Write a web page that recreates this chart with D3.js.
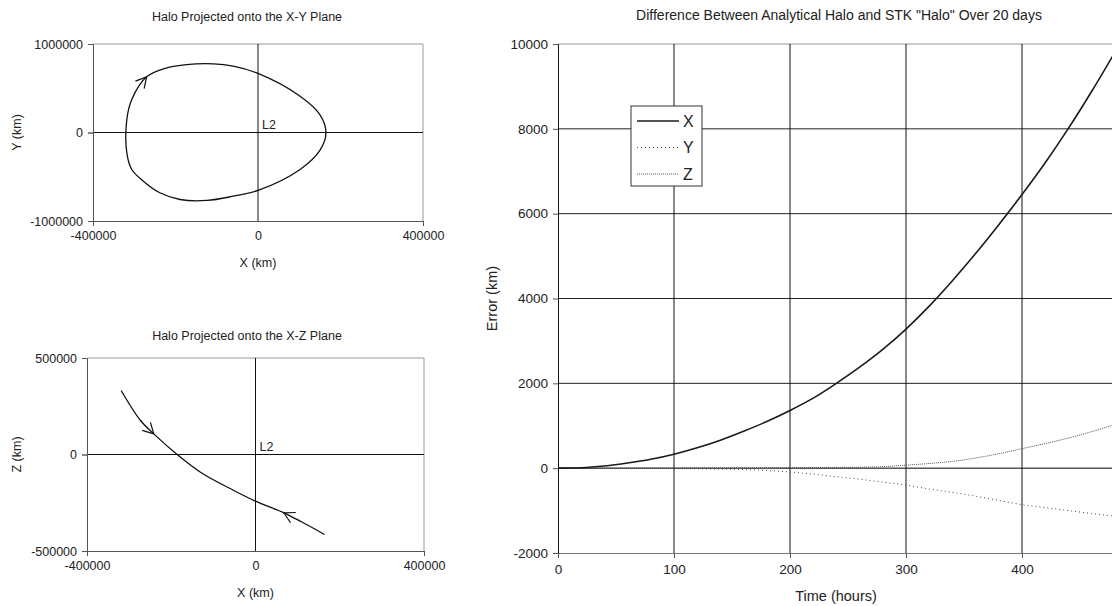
<!DOCTYPE html>
<html>
<head>
<meta charset="utf-8">
<script src="https://cdn.jsdelivr.net/npm/d3@7"></script>
<style>
body { margin: 0; background: #fff; }
svg { display: block; font-family: "Liberation Sans", Arial, sans-serif; }
text { fill: #222; }
</style>
</head>
<body>
<div id="chart"></div>
<script>
// halo orbit projected on X-Y (km), clockwise from the right-most point
var xyOrbitX = [164800, 150000, 102000, 0, -60000, -124000, -189000, -238000, -278000, -306000, -318000, -318000, -306000, -270000, -221000, -173000, -108000, -60000, 0, 102000, 150000];
var xyOrbitY = [0, -203000, -418000, -655000, -720000, -768000, -757000, -681000, -550000, -418000, -230000, 147000, 373000, 629000, 731000, 768000, 776000, 749000, 667000, 410000, 203000];
// halo orbit projected on X-Z (km)
var xzOrbitX = [-319000, -273000, -241500, -186000, -130600, -51500, 0, 67200, 110000, 164000];
var xzOrbitZ = [331600, 176000, 107000, 0, -91700, -186500, -242000, -302000, -350000, -414500];
// direction arrows: tip and a point just behind it
var xyArrows = [{ tip: [-270000, 629000], from: [-290000, 520000] }];
var xzArrows = [
  { tip: [-241500, 107000], from: [-273000, 176000] },
  { tip: [67200, -302000], from: [110000, -350000] }
];

// error between analytical halo and STK halo
var hours = [0, 20, 40, 60, 80, 100, 120, 140, 160, 180, 200, 220, 240, 260, 280, 300, 320, 340, 360, 380, 400, 420, 440, 460, 480];
var errX = [0, 10, 50, 120, 210, 330, 480, 660, 870, 1100, 1360, 1650, 2000, 2380, 2800, 3280, 3820, 4420, 5060, 5740, 6450, 7200, 8010, 8880, 9800];
var errY = [0, 0, -2, -4, -6, -10, -15, -22, -32, -55, -90, -140, -200, -260, -330, -400, -490, -570, -660, -760, -860, -930, -1000, -1070, -1130];
var errZ = [0, 0, 1, 2, 3, 4, 5, 6, 8, 10, 12, 15, 18, 22, 35, 70, 110, 160, 240, 340, 460, 580, 710, 860, 1030];
var seriesNames = ["X", "Y", "Z"];
var hourTicks = [0, 100, 200, 300, 400];
var errTicks = [-2000, 0, 2000, 4000, 6000, 8000, 10000];

// plain hyphen minus like the original
var fmt = function (d) { return String(d) };
var svg = d3.select("#chart").append("svg").attr("width", 1112).attr("height", 606);

//小图：轨道投影
function orbitChart(o) {
  var g = svg.append("g");
  var x = d3.scaleLinear().domain([-400000, 400000]).range([o.left, o.right]);
  var y = d3.scaleLinear().domain(o.ydom).range([o.bottom, o.top]);

  g.append("text").text(o.title).attr("x", 247).attr("y", o.titleY)
    .attr("text-anchor", "middle").attr("font-size", 12.5);

  // border
  g.append("line").attr("x1", o.left).attr("x2", o.right).attr("y1", o.top).attr("y2", o.top).attr("stroke", "#9a9a9a");
  g.append("line").attr("x1", o.right).attr("x2", o.right).attr("y1", o.top).attr("y2", o.bottom).attr("stroke", "#9a9a9a");

  // zero cross
  g.append("line").attr("x1", o.left).attr("x2", o.right).attr("y1", y(0)).attr("y2", y(0)).attr("stroke", "#111");
  g.append("line").attr("x1", x(0)).attr("x2", x(0)).attr("y1", o.top).attr("y2", o.bottom).attr("stroke", "#111");

  var ya = g.append("g").attr("transform", "translate(" + o.left + ",0)")
    .call(d3.axisLeft(y).tickValues(o.ydom.concat([0])).tickFormat(fmt).tickSize(5).tickPadding(5));
  var xa = g.append("g").attr("transform", "translate(0," + o.bottom + ")")
    .call(d3.axisBottom(x).tickValues([-400000, 0, 400000]).tickFormat(fmt).tickSize(5).tickPadding(5));
  [ya, xa].forEach(function (a) {
    a.select(".domain").attr("stroke", "#555")
    a.selectAll(".tick line").attr("stroke", "#555")
    a.selectAll("text").attr("font-size", 12.5).attr("fill", "#222").attr("font-family", null)
  })
  xa.selectAll(".tick").filter(function (d) { return d == 0 }).select("line").remove()
  ya.selectAll(".tick").filter(function (d) { return d == 0 }).select("line").attr("stroke", "#111")

  g.append("text").text("X (km)").attr("x", x(0)).attr("y", o.bottom + 46)
    .attr("text-anchor", "middle").attr("font-size", 12.5);
  g.append("text").text(o.ylabel).attr("transform", "translate(21," + y(0) + ") rotate(-90)")
    .attr("text-anchor", "middle").attr("font-size", 12.5);

  g.append("text").text("L2").attr("x", x(0) + 4).attr("y", y(0) - 4).attr("font-size", 12.5);

  var pts = o.xs.map(function (v, i) { return [v, o.ys[i]] });
  var line = d3.line().x(function (d) { return x(d[0]) }).y(function (d) { return y(d[1]) }).curve(o.curve);
  g.append("path").datum(pts).attr("d", line).attr("fill", "none").attr("stroke", "#111").attr("stroke-width", 1.3);

  o.arrows.forEach(function (a) {
    var tx = x(a.tip[0]), ty = y(a.tip[1]);
    var ang = Math.atan2(ty - y(a.from[1]), tx - x(a.from[0]));
    [-0.5, 0.5].forEach(function (s) {
      var t = ang + Math.PI + s;
      g.append("line").attr("x1", tx).attr("y1", ty)
        .attr("x2", tx + 12 * Math.cos(t)).attr("y2", ty + 12 * Math.sin(t))
        .attr("stroke", "#111").attr("stroke-width", 1.2);
    })
  })
}

orbitChart({
  title: "Halo Projected onto the X-Y Plane", titleY: 21,
  left: 93, right: 423, top: 44, bottom: 221,
  ydom: [-1000000, 1000000], ylabel: "Y (km)",
  xs: xyOrbitX, ys: xyOrbitY, curve: d3.curveCatmullRomClosed, arrows: xyArrows
})
orbitChart({
  title: "Halo Projected onto the X-Z Plane", titleY: 340,
  left: 87, right: 424, top: 358, bottom: 551,
  ydom: [-500000, 500000], ylabel: "Z (km)",
  xs: xzOrbitX, ys: xzOrbitZ, curve: d3.curveCatmullRom, arrows: xzArrows
})

//大图：误差
var R = { left: 558, right: 1138, top: 44, bottom: 553 };
var rx = d3.scaleLinear().domain([0, 500]).range([R.left, R.right]);
var ry = d3.scaleLinear().domain([-2000, 10000]).range([R.bottom, R.top]);
var rg = svg.append("g");

rg.append("text").text('Difference Between Analytical Halo and STK "Halo" Over 20 days')
  .attr("x", 839).attr("y", 20).attr("text-anchor", "middle").attr("font-size", 14);

[2000, 4000, 6000, 8000].forEach(function (v) {
  rg.append("line").attr("x1", R.left).attr("x2", R.right).attr("y1", ry(v)).attr("y2", ry(v)).attr("stroke", "#222");
});
rg.append("line").attr("x1", R.left).attr("x2", R.right).attr("y1", ry(10000)).attr("y2", ry(10000)).attr("stroke", "#9a9a9a");
rg.append("line").attr("x1", R.left).attr("x2", R.right).attr("y1", ry(0)).attr("y2", ry(0)).attr("stroke", "#000");
hourTicks.slice(1).forEach(function (v) {
  rg.append("line").attr("x1", rx(v)).attr("x2", rx(v)).attr("y1", R.top).attr("y2", R.bottom).attr("stroke", "#111");
});

var rya = rg.append("g").attr("transform", "translate(" + R.left + ",0)")
  .call(d3.axisLeft(ry).tickValues(errTicks).tickFormat(fmt).tickSize(5).tickPadding(5));
var rxa = rg.append("g").attr("transform", "translate(0," + R.bottom + ")")
  .call(d3.axisBottom(rx).tickValues(hourTicks).tickFormat(fmt).tickSize(5).tickPadding(6));
rya.select(".domain").attr("stroke", "#111");
rxa.select(".domain").attr("stroke", "#777");
[rya, rxa].forEach(function (a) {
  a.selectAll(".tick line").attr("stroke", "#555")
  a.selectAll("text").attr("font-size", 13.5).attr("fill", "#222").attr("font-family", null)
});

rg.append("text").text("Time (hours)").attr("x", 836).attr("y", 601)
  .attr("text-anchor", "middle").attr("font-size", 14.5);
rg.append("text").text("Error (km)").attr("transform", "translate(497," + ry(4000) + ") rotate(-90)")
  .attr("text-anchor", "middle").attr("font-size", 14.5);

var styles = {
  X: { stroke: "#1a1a1a", width: 1.6, dash: null },
  Y: { stroke: "#444", width: 1, dash: "1,3" },
  Z: { stroke: "#555", width: 1, dash: "1,1" }
};
var seriesData = { X: errX, Y: errY, Z: errZ };
var rline = d3.line().x(function (d) { return rx(d[0]) }).y(function (d) { return ry(d[1]) }).curve(d3.curveMonotoneX);
["Z", "Y", "X"].forEach(function (k) {
  var pts = hours.map(function (h, i) { return [h, seriesData[k][i]] });
  rg.append("path").datum(pts).attr("d", rline).attr("fill", "none")
    .attr("stroke", styles[k].stroke).attr("stroke-width", styles[k].width)
    .attr("stroke-dasharray", styles[k].dash);
});

// legend
var lg = rg.append("g").attr("transform", "translate(631,106)");
lg.append("rect").attr("width", 71).attr("height", 80).attr("fill", "#fff").attr("stroke", "#333");
seriesNames.forEach(function (k, i) {
  var yy = 15 + i * 26.5;
  lg.append("line").attr("x1", 6).attr("x2", 48).attr("y1", yy).attr("y2", yy)
    .attr("stroke", styles[k].stroke).attr("stroke-width", styles[k].width)
    .attr("stroke-dasharray", styles[k].dash);
  lg.append("text").text(k).attr("x", 52).attr("y", yy + 5.5).attr("font-size", 16).attr("fill", "#111");
});
</script>
</body>
</html>
